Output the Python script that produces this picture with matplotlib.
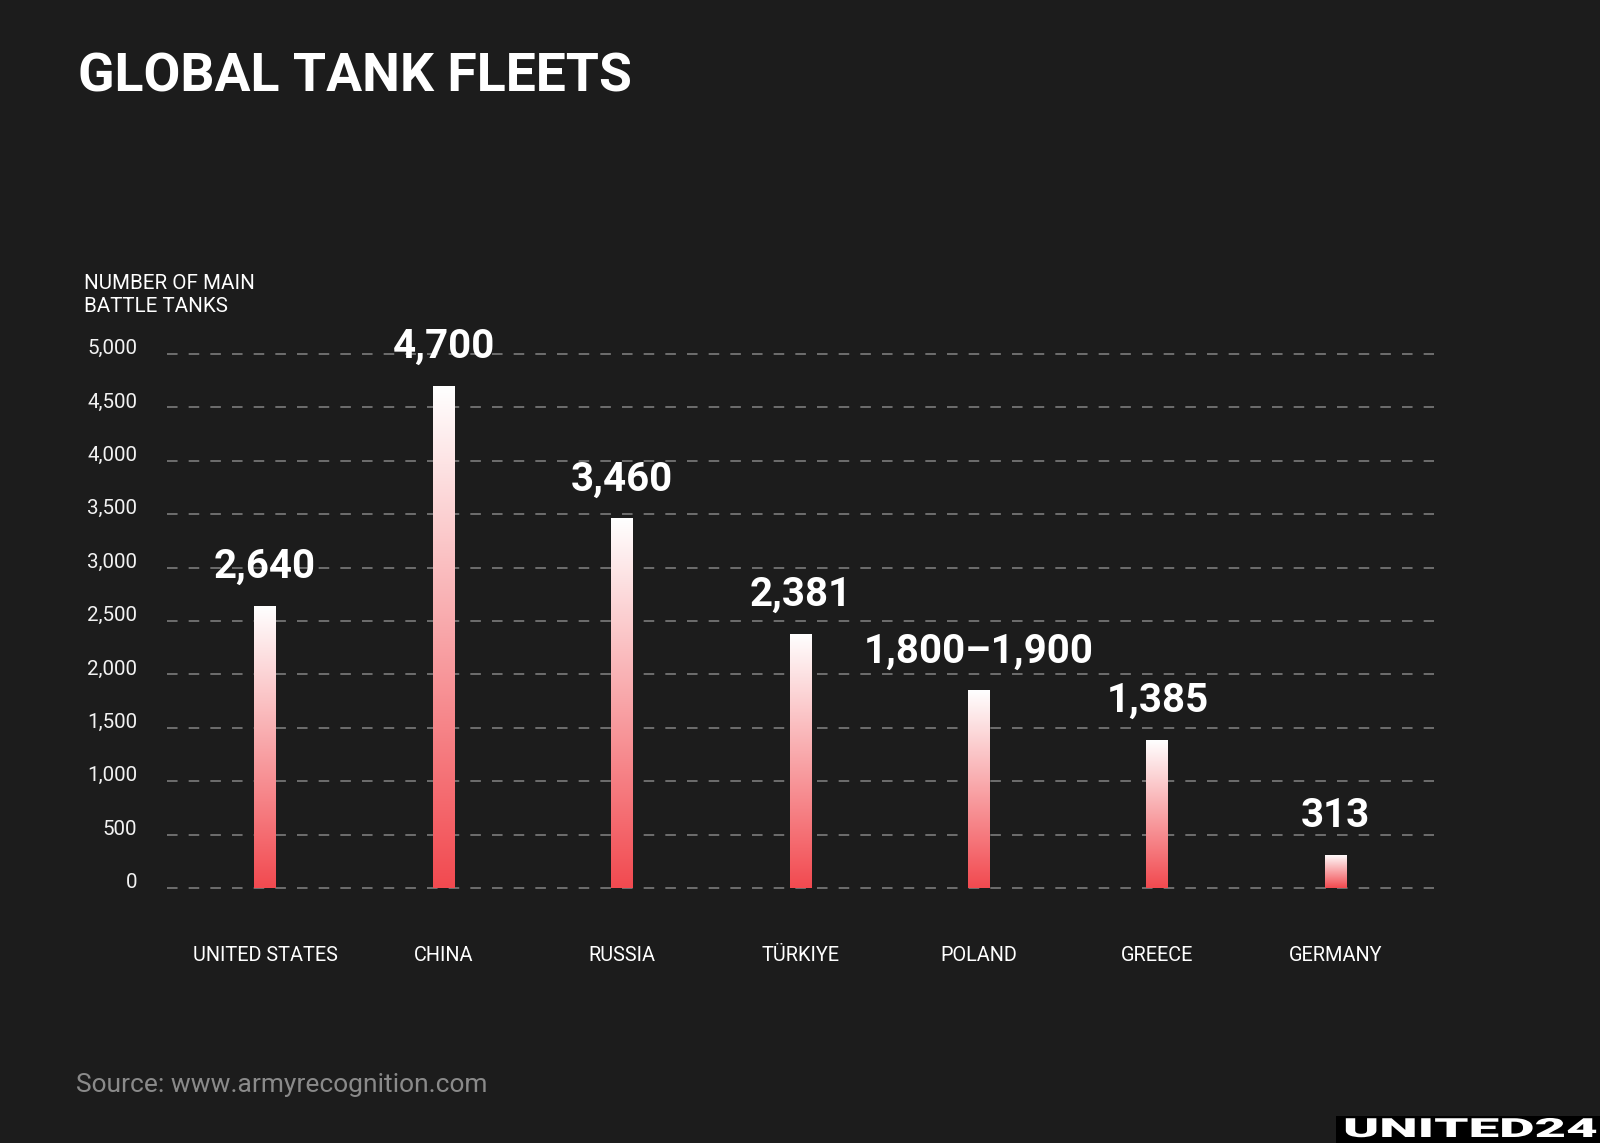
import numpy as np
import matplotlib
matplotlib.use('Agg')
import matplotlib.pyplot as plt
import matplotlib.patheffects as pe
from matplotlib.colors import LinearSegmentedColormap
from matplotlib.transforms import Affine2D, blended_transform_factory

countries = ['UNITED STATES', 'CHINA', 'RUSSIA', 'TÜRKIYE', 'POLAND', 'GREECE', 'GERMANY']
tanks = [2640, 4700, 3460, 2381, 1850, 1385, 313]
value_labels = ['2,640', '4,700', '3,460', '2,381', '1,800–1,900', '1,385', '313']
yticks = [0, 500, 1000, 1500, 2000, 2500, 3000, 3500, 4000, 4500, 5000]

BG = '#1c1c1c'
plt.rcParams['font.family'] = ['Roboto', 'DejaVu Sans']
plt.rcParams['lines.scale_dashes'] = False


class Stretch(pe.AbstractPathEffect):
    # widen text horizontally around x0 (display pixels)
    def __init__(self, sx, x0):
        super().__init__()
        self.sx = sx
        self.x0 = x0

    def draw_path(self, renderer, gc, tpath, affine, rgbFace=None):
        t = affine + Affine2D().translate(-self.x0, 0).scale(self.sx, 1).translate(self.x0, 0)
        renderer.draw_path(gc, tpath, t, rgbFace)


fig = plt.figure(figsize=(16, 11.43), dpi=100, facecolor=BG)
ax = fig.add_axes([167 / 1600, 1 - 888 / 1143, (1434 - 167) / 1600, (888 - 354) / 1143])
ax.set_facecolor(BG)
for s in ax.spines.values():
    s.set_visible(False)
ax.set_xticks([])
ax.set_yticks([])

x = np.arange(len(countries))

for t in yticks:
    ax.axhline(t, color='#7c7c7c', lw=1.2, linestyle=(0, (7.6, 8.0)), zorder=1, clip_on=False)

# bars with their own white -> red gradient
cmap = LinearSegmentedColormap.from_list('tank', ['#f24a50', '#ffffff'])
grad = np.linspace(0, 1, 256).reshape(-1, 1)
bars = ax.bar(x, tanks, width=0.123, color='none', zorder=2)
for b in bars:
    x0, w, h = b.get_x(), b.get_width(), b.get_height()
    im = ax.imshow(grad, extent=(x0, x0 + w, 0, h), origin='lower', aspect='auto',
                   cmap=cmap, zorder=2, interpolation='bicubic')
    im.set_clip_path(b)
ax.set_xlim(-0.55, len(countries) - 0.45)
ax.set_ylim(0, 5000)

for xi, v, lab in zip(x, tanks, value_labels):
    ax.annotate(lab, (xi, v), xytext=(0, 20.2), textcoords='offset points',
                ha='center', va='baseline', color='white', fontsize=29,
                fontweight='bold', zorder=3, annotation_clip=False)

ytrans = blended_transform_factory(fig.transFigure, ax.transData)
for t in yticks:
    ax.text(137 / 1600, t, f'{t:,}', transform=ytrans, ha='right', va='baseline',
            color='#f2f2f2', fontsize=14.8)

xtrans = blended_transform_factory(ax.transData, fig.transFigure)
for xi, c in zip(x, countries):
    ax.text(xi, 1 - 961 / 1143, c, transform=xtrans, ha='center', va='baseline',
            color='white', fontsize=14.3)

fig.text(84 / 1600, 1 - 312 / 1143, 'NUMBER OF MAIN\nBATTLE TANKS', ha='left', va='baseline',
         color='white', fontsize=14.8, linespacing=1.25)

fig.text(78 / 1600, 1 - 92 / 1143, 'GLOBAL TANK FLEETS', ha='left', va='baseline',
         color='white', fontsize=38.5, fontweight='bold')

fig.text(76 / 1600, 1 - 1092 / 1143, 'Source: www.armyrecognition.com', ha='left', va='baseline',
         color='#8a8a8a', fontsize=19)

# logo block
fig.patches.append(plt.Rectangle((1336 / 1600, 0), 264 / 1600, 27 / 1143, transform=fig.transFigure,
                                 facecolor='black', edgecolor='none', zorder=0))
logo = fig.text(1343 / 1600, 6 / 1143, 'UNITED24', ha='left', va='baseline', color='white',
                fontsize=19, fontweight=900)
fig.canvas.draw()
bb = logo.get_window_extent()
logo.set_path_effects([Stretch(254 / bb.width, bb.x0)])

fig.savefig('out.png', dpi=100, facecolor=BG)
